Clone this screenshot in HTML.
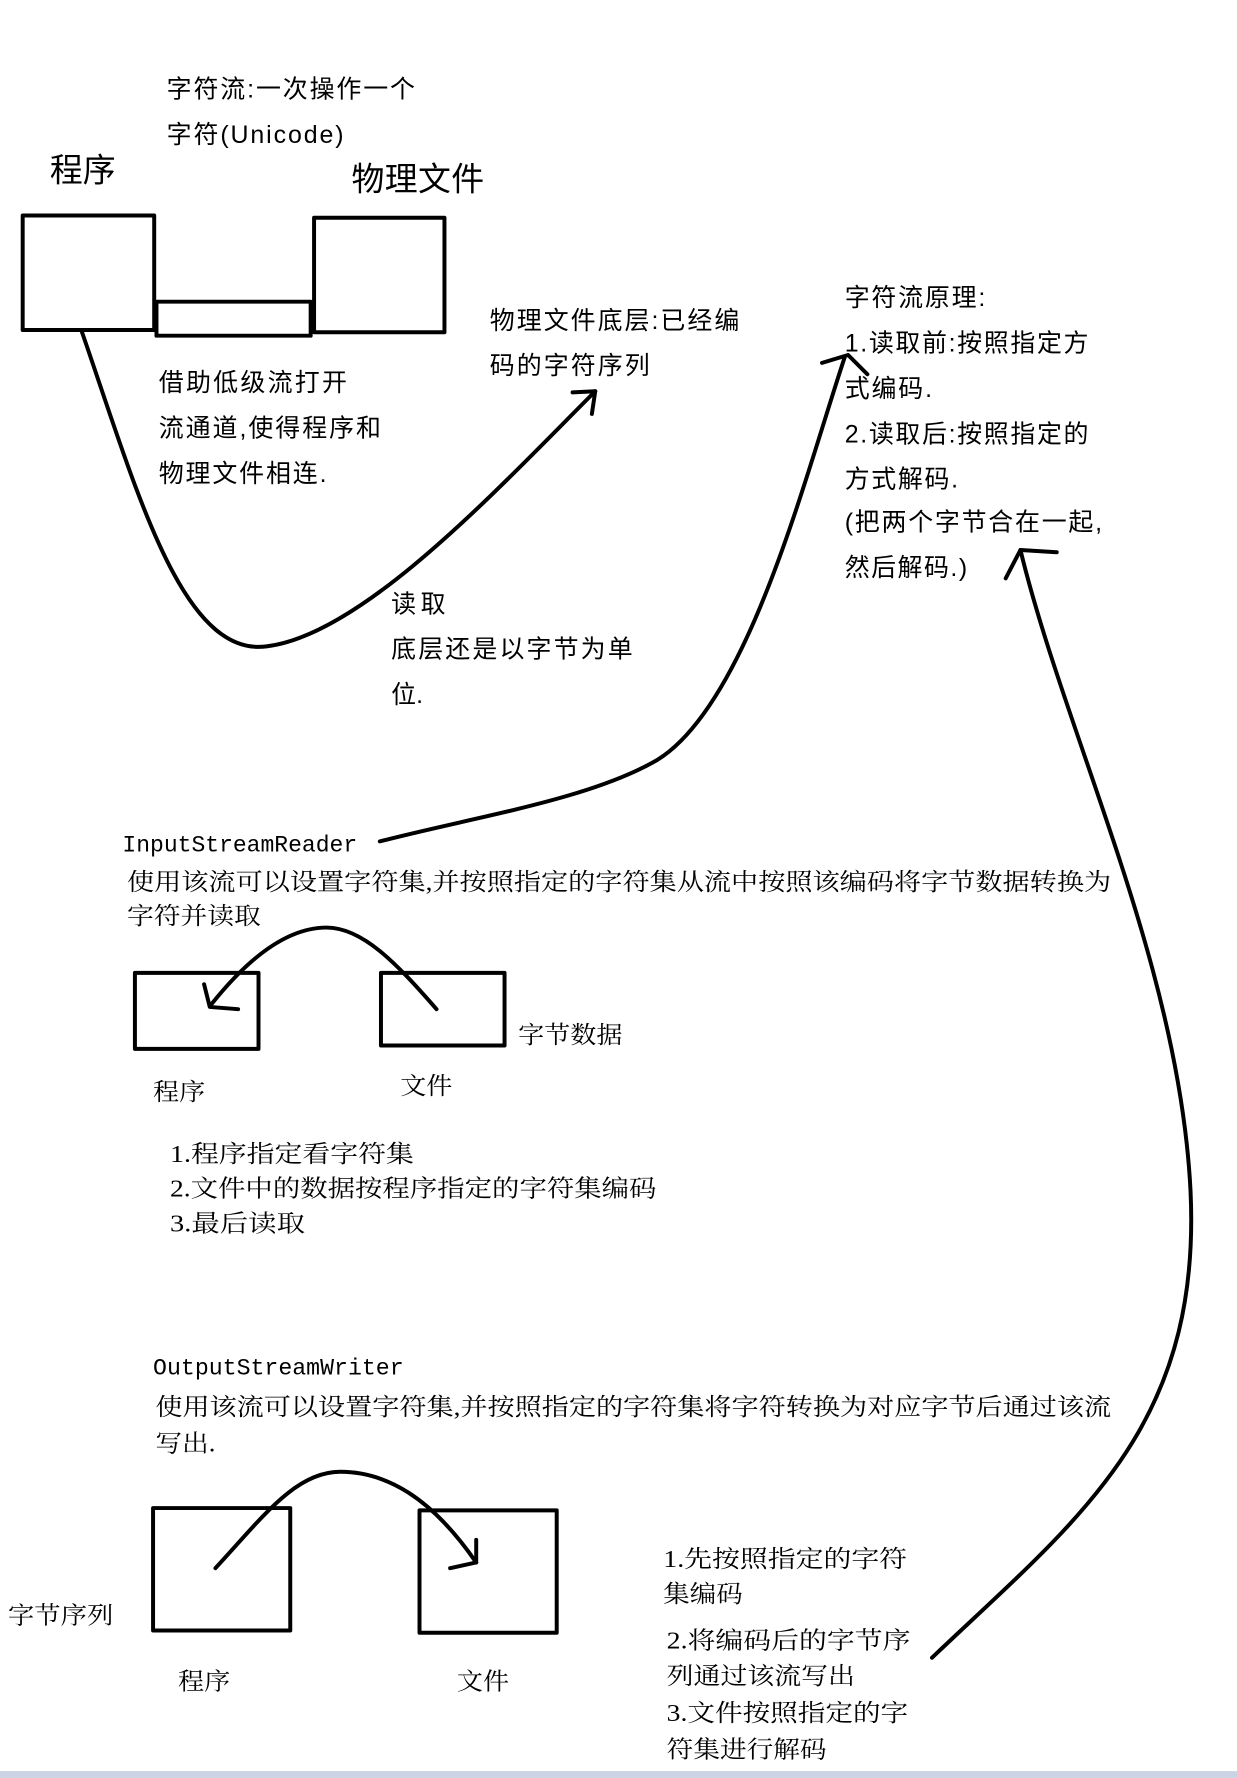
<!DOCTYPE html>
<html><head><meta charset="utf-8">
<style>
html,body{margin:0;padding:0;background:#fff;}
svg{display:block;}
.s{font-family:"Liberation Sans","Noto Sans CJK SC",sans-serif;fill:#000;}
.r{font-family:"Liberation Serif","Noto Serif CJK SC",serif;fill:#000;}
.m{font-family:"Liberation Mono","Noto Serif CJK SC",monospace;fill:#000;}
</style></head><body>
<svg width="1237" height="1778" viewBox="0 0 1091 1568" xmlns="http://www.w3.org/2000/svg">
<rect width="1091" height="1568" fill="#fff"/>
<g fill="none" stroke="#000" stroke-width="3.5" stroke-linecap="round" stroke-linejoin="round">
<rect x="20" y="190" width="116" height="101"/>
<rect x="138" y="266" width="136" height="30"/>
<rect x="277" y="192" width="115" height="101"/>
<path d="M72 292 C120 430 160 580 235 570 C320 560 440 430 525 345"/>
<path d="M505 346 L525 345 L522 365"/>
<path d="M335 742 C420 720 520 705 580 670 C660 620 710 420 745 315"/>
<path d="M725 320 L748 313 L765 330"/>
<path d="M822 1462 C950 1340 1060 1260 1050 1050 C1040 850 940 650 900 485"/>
<path d="M887 510 L900 485 L932 487"/>
<rect x="119" y="858" width="109" height="67"/>
<rect x="336" y="858" width="109" height="64"/>
<path d="M385 890 C350 850 320 818 288 818 C250 818 215 850 187 885"/>
<path d="M180 868 L185 888 L210 890"/>
<rect x="135" y="1330" width="121" height="108"/>
<rect x="370" y="1332" width="121" height="108"/>
<path d="M190 1383 C230 1340 260 1298 300 1298 C340 1298 380 1320 420 1378"/>
<path d="M420 1358 L420 1378 L397 1383"/>
</g>
<rect x="0" y="1562" width="1091" height="6" fill="#c9d3e3"/>
<g class="s" font-size="22" lengthAdjust="spacingAndGlyphs">
<text x="147" y="86" textLength="219">字符流:一次操作一个</text>
<text x="147" y="126" textLength="156">字符(Unicode)</text>
<text x="44" y="160" font-size="29" textLength="58">程序</text>
<text x="310" y="168" font-size="29" textLength="117">物理文件</text>
<text x="432" y="290" textLength="220">物理文件底层:已经编</text>
<text x="432" y="330" textLength="141">码的字符序列</text>
<text x="140" y="345" textLength="166">借助低级流打开</text>
<text x="140" y="385" textLength="196">流通道,使得程序和</text>
<text x="140" y="425" textLength="148">物理文件相连.</text>
<text x="345" y="540" textLength="48">读取</text>
<text x="345" y="580" textLength="213">底层还是以字节为单</text>
<text x="345" y="620">位.</text>
<text x="745" y="270" textLength="124">字符流原理:</text>
<text x="745" y="310" textLength="215">1.读取前:按照指定方</text>
<text x="745" y="350" textLength="77">式编码.</text>
<text x="745" y="390" textLength="215">2.读取后:按照指定的</text>
<text x="745" y="430" textLength="100">方式解码.</text>
<text x="745" y="468" textLength="227">(把两个字节合在一起,</text>
<text x="745" y="508" textLength="108">然后解码.)</text>
</g>
<g class="r" font-size="21">
<text class="m" x="108" y="751" font-size="20" textLength="207" lengthAdjust="spacingAndGlyphs">InputStreamReader</text>
<text x="112" y="785" textLength="868" lengthAdjust="spacingAndGlyphs">使用该流可以设置字符集,并按照指定的字符集从流中按照该编码将字节数据转换为</text>
<text x="112" y="815" textLength="118" lengthAdjust="spacingAndGlyphs">字符并读取</text>
<text x="457" y="920" textLength="92" lengthAdjust="spacingAndGlyphs">字节数据</text>
<text x="135" y="970" textLength="46" lengthAdjust="spacingAndGlyphs">程序</text>
<text x="353" y="965" textLength="46" lengthAdjust="spacingAndGlyphs">文件</text>
<text x="150" y="1025" textLength="215" lengthAdjust="spacingAndGlyphs">1.程序指定看字符集</text>
<text x="150" y="1055" textLength="429" lengthAdjust="spacingAndGlyphs">2.文件中的数据按程序指定的字符集编码</text>
<text x="150" y="1086" textLength="119" lengthAdjust="spacingAndGlyphs">3.最后读取</text>
<text class="m" x="135" y="1212" font-size="20" textLength="221" lengthAdjust="spacingAndGlyphs">OutputStreamWriter</text>
<text x="137" y="1248" textLength="843" lengthAdjust="spacingAndGlyphs">使用该流可以设置字符集,并按照指定的字符集将字符转换为对应字节后通过该流</text>
<text x="137" y="1280" textLength="53" lengthAdjust="spacingAndGlyphs">写出.</text>
<text x="7" y="1432" textLength="93" lengthAdjust="spacingAndGlyphs">字节序列</text>
<text x="157" y="1490" textLength="46" lengthAdjust="spacingAndGlyphs">程序</text>
<text x="403" y="1490" textLength="46" lengthAdjust="spacingAndGlyphs">文件</text>
<text x="585" y="1382" textLength="215" lengthAdjust="spacingAndGlyphs">1.先按照指定的字符</text>
<text x="585" y="1413" textLength="70" lengthAdjust="spacingAndGlyphs">集编码</text>
<text x="588" y="1454" textLength="215" lengthAdjust="spacingAndGlyphs">2.将编码后的字节序</text>
<text x="588" y="1485" textLength="166" lengthAdjust="spacingAndGlyphs">列通过该流写出</text>
<text x="588" y="1518" textLength="213" lengthAdjust="spacingAndGlyphs">3.文件按照指定的字</text>
<text x="588" y="1550" textLength="141" lengthAdjust="spacingAndGlyphs">符集进行解码</text>
</g>
</svg>
</body></html>
